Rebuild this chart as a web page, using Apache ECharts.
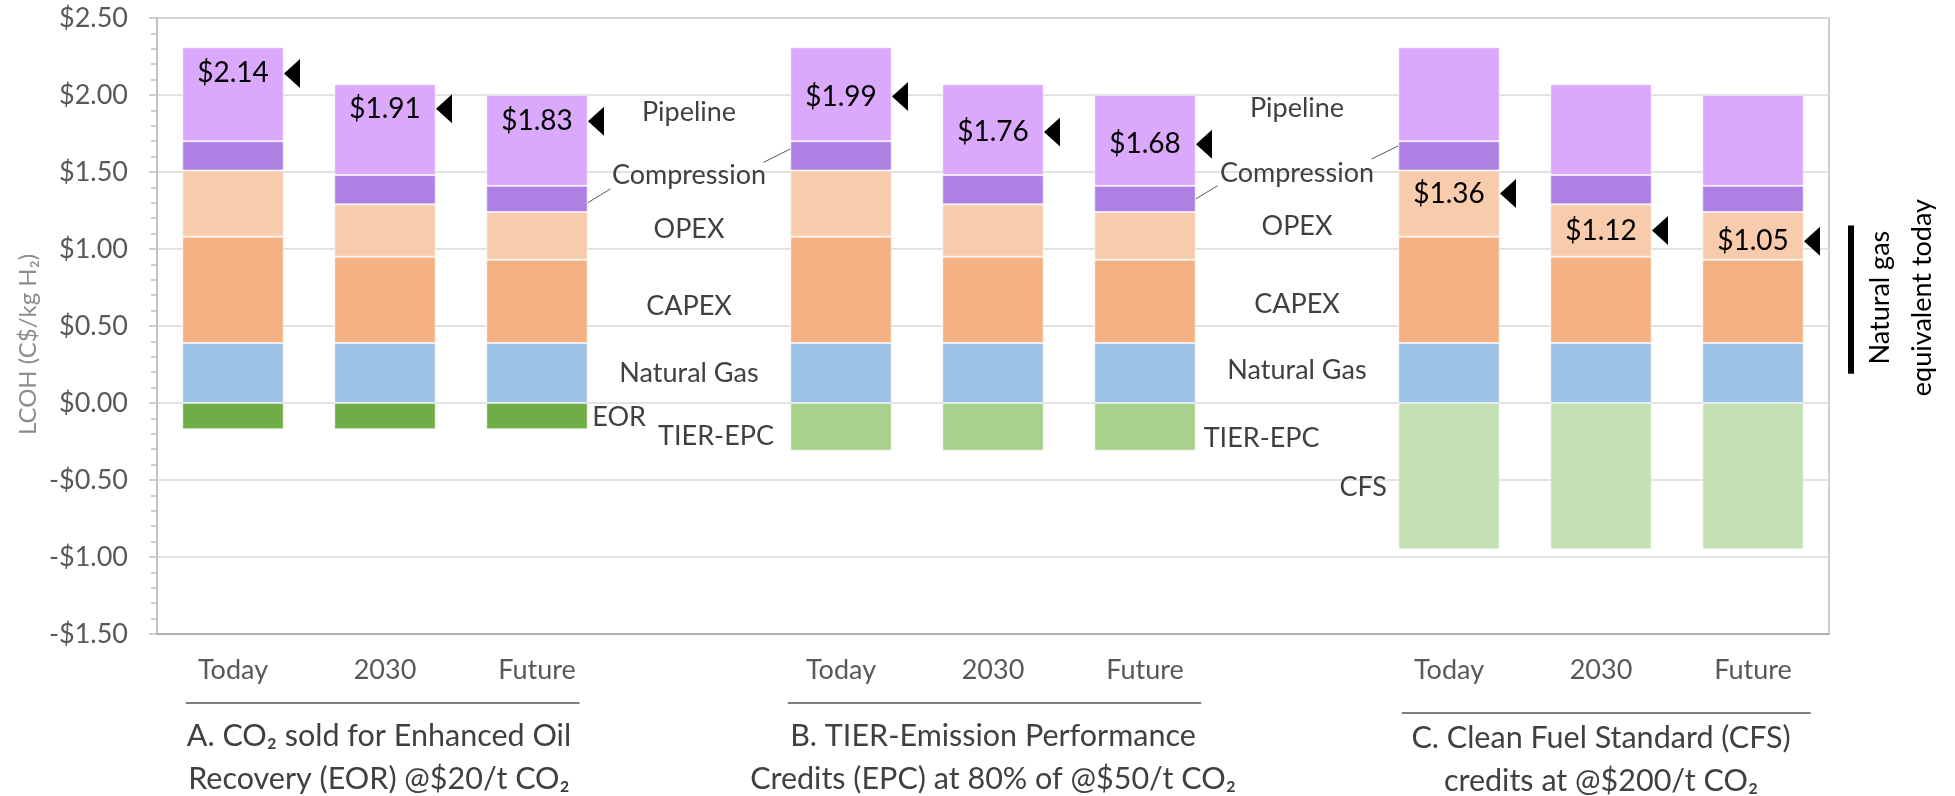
<!DOCTYPE html>
<html><head><meta charset="utf-8">
<script src="https://cdn.jsdelivr.net/npm/echarts@6/dist/echarts.min.js"></script>
<style>html,body{margin:0;padding:0;background:#fff}#c{width:1955px;height:796px}</style>
</head><body><div id="c"></div>
<script>
// ---------- data ----------
const categories = ['Today', '2030', 'Future', '', 'Today', '2030', 'Future', '', 'Today', '2030', 'Future'];
const scenarioStarts = [0, 4, 8];
const naturalGas = [0.39, 0.39, 0.39];
const capex = [0.69, 0.56, 0.54];
const opex = [0.43, 0.34, 0.31];
const compression = [0.19, 0.19, 0.17];
const pipeline = [0.61, 0.59, 0.59];
const eorCredit = [-0.17, -0.17, -0.17];
const tierEpcCredit = [-0.31, -0.31, -0.31];
const cfsCredit = [-0.95, -0.95, -0.95];
const totalsA = [2.14, 1.91, 1.83];
const totalsB = [1.99, 1.76, 1.68];
const totalsC = [1.36, 1.12, 1.05];
const scenarioTitles = [
  ['A. CO\u2082 sold for Enhanced Oil', 'Recovery (EOR) @$20/t CO\u2082'],
  ['B. TIER-Emission Performance', 'Credits (EPC) at 80% of @$50/t CO\u2082'],
  ['C. Clean Fuel Standard (CFS)', 'credits at @$200/t CO\u2082']
];
const yAxisTitle = 'LCOH (C$/kg H\u2082)';
const sideNote = ['Natural gas', 'equivalent today'];

// ---------- layout / style ----------
const FONT = 'Lato, "Noto Sans", sans-serif';
const FS = 27;
const TXT = '#404040';
const G = {left: 157, right: 126, top: 18, bottom: 162};

function spread(values, groups) {
  const out = categories.map(() => '-');
  groups.forEach(g => values.forEach((v, i) => { out[scenarioStarts[g] + i] = v; }));
  return out;
}
const barDefs = [
  ['Natural Gas', spread(naturalGas, [0, 1, 2]), '#9DC3E6'],
  ['CAPEX', spread(capex, [0, 1, 2]), '#F4B183'],
  ['OPEX', spread(opex, [0, 1, 2]), '#F8CBAD'],
  ['Compression', spread(compression, [0, 1, 2]), '#AE80E3'],
  ['Pipeline', spread(pipeline, [0, 1, 2]), '#DAA9FB'],
  ['EOR', spread(eorCredit, [0]), '#70AD47'],
  ['TIER-EPC', spread(tierEpcCredit, [1]), '#A9D18E'],
  ['CFS', spread(cfsCredit, [2]), '#C5E0B4']
];
const barSeries = barDefs.map(([name, data, color]) => ({
  type: 'bar', name, data, stack: 'lcoh', barCategoryGap: '33.3%',
  itemStyle: {color, borderColor: 'rgba(255,255,255,0.55)', borderWidth: 1},
  emphasis: {disabled: true}, silent: true
}));
const totalPoints = [];
[totalsA, totalsB, totalsC].forEach((t, g) => t.forEach((v, i) => totalPoints.push([scenarioStarts[g] + i, v])));

const option = {
  animation: false,
  backgroundColor: '#ffffff',
  grid: {left: G.left, right: G.right, top: G.top, bottom: G.bottom, show: true,
         borderColor: '#bfbfbf', borderWidth: 1.5, backgroundColor: 'transparent'},
  xAxis: {
    type: 'category', data: categories,
    axisLine: {show: true, onZero: false, lineStyle: {color: '#a6a6a6', width: 1.5}},
    axisTick: {show: false},
    axisLabel: {color: '#595959', fontFamily: FONT, fontSize: FS, margin: 23, interval: 0}
  },
  yAxis: {
    type: 'value', min: -1.5, max: 2.5, interval: 0.5,
    axisLine: {show: true, lineStyle: {color: '#bfbfbf', width: 1.5}},
    axisTick: {show: true, length: 8, lineStyle: {color: '#bfbfbf', width: 1.5}},
    minorTick: {show: true, splitNumber: 5, length: 6, lineStyle: {color: '#bfbfbf', width: 1.5}},
    splitLine: {show: true, lineStyle: {color: '#d9d9d9', width: 1.5}},
    axisLabel: {color: '#595959', fontFamily: FONT, fontSize: FS, margin: 29,
      formatter: v => (v < 0 ? '-$' : '$') + Math.abs(v).toFixed(2)}
  },
  series: barSeries.concat([
    {type: 'scatter', name: 'marker', data: totalPoints, symbol: 'triangle',
     symbolSize: [29, 16], symbolRotate: 90, symbolOffset: [59, 0],
     itemStyle: {color: '#000', opacity: 1}, z: 5, silent: true},
    {type: 'scatter', name: 'total', data: totalPoints, symbolSize: 1,
     itemStyle: {color: 'rgba(0,0,0,0)', opacity: 1}, z: 6, silent: true,
     label: {show: true, position: 'inside', color: '#000', fontFamily: FONT, fontSize: 28,
       formatter: p => '$' + p.value[1].toFixed(2)}}
  ])
};

const chart = echarts.init(document.getElementById('c'), null, {renderer: 'canvas'});
chart.setOption(option);

// ---------- annotations positioned through the axes ----------
function px(cat, val) {
  const a = chart.convertToPixel({xAxisIndex: 0, yAxisIndex: 0}, [0, val]);
  const b = chart.convertToPixel({xAxisIndex: 0, yAxisIndex: 0}, [1, val]);
  return [a[0] + cat * (b[0] - a[0]), a[1]];
}
const segLabels = [
  ['Pipeline', 3, 1.885, 'center'], ['Compression', 3, 1.476, 'center'], ['OPEX', 3, 1.127, 'center'],
  ['CAPEX', 3, 0.625, 'center'], ['Natural Gas', 3, 0.194, 'center'],
  ['Pipeline', 7, 1.914, 'center'], ['Compression', 7, 1.494, 'center'], ['OPEX', 7, 1.146, 'center'],
  ['CAPEX', 7, 0.642, 'center'], ['Natural Gas', 7, 0.215, 'center'],
  ['EOR', 2.364, -0.09, 'left'], ['TIER-EPC', 3.559, -0.216, 'right'],
  ['TIER-EPC', 6.386, -0.226, 'left'], ['CFS', 7.592, -0.548, 'right']
];
const leaders = [
  [2.333, 1.30, 2.483, 1.39], [3.49, 1.562, 3.667, 1.65],
  [6.333, 1.325, 6.478, 1.411], [7.49, 1.584, 7.667, 1.67]
];
const sepLines = [[-0.31, 2.28, 69], [3.65, 6.37, 69], [7.69, 10.38, 79]];
const titleCenters = [[0.96, 102], [5.0, 102], [9.0, 104]];

const graphics = [];
segLabels.forEach(([t, c, v, al]) => {
  const p = px(c, v);
  graphics.push({type: 'text', x: p[0], y: p[1], silent: true,
    style: {text: t, fill: TXT, font: FS + 'px ' + FONT, align: al, verticalAlign: 'middle'}});
});
leaders.forEach(([c1, v1, c2, v2]) => {
  const a = px(c1, v1), b = px(c2, v2);
  graphics.push({type: 'line', silent: true, shape: {x1: a[0], y1: a[1], x2: b[0], y2: b[1]},
    style: {stroke: '#595959', lineWidth: 1}});
});
const bottomY = px(0, -1.5)[1];
sepLines.forEach(([c1, c2, dy]) => {
  const a = px(c1, 0), b = px(c2, 0);
  graphics.push({type: 'line', silent: true, shape: {x1: a[0], y1: bottomY + dy, x2: b[0], y2: bottomY + dy},
    style: {stroke: '#7f7f7f', lineWidth: 2}});
});
titleCenters.forEach(([c, dy], i) => {
  const p = px(c, 0);
  scenarioTitles[i].forEach((line, k) => {
    graphics.push({type: 'text', x: p[0], y: bottomY + dy + k * 43, silent: true,
      style: {text: line, fill: TXT, font: '30.5px ' + FONT, align: 'center', verticalAlign: 'middle'}});
  });
});

// y axis title
graphics.push({type: 'text', x: 28, y: px(0, 0.38)[1], rotation: Math.PI / 2, silent: true,
  style: {text: yAxisTitle, fill: '#8c8c8c', font: '24px ' + FONT, align: 'center', verticalAlign: 'middle'}});

// side marker: natural gas equivalent today
const rightX = px(10.5, 0)[0];
const markTop = px(0, 1.153)[1], markBot = px(0, 0.19)[1];
graphics.push({type: 'rect', silent: true, shape: {x: rightX + 19, y: markTop, width: 6, height: markBot - markTop},
  style: {fill: '#000'}});
sideNote.forEach((line, k) => {
  graphics.push({type: 'text', x: rightX + 51 + k * 42, y: (markTop + markBot) / 2 - 2, rotation: Math.PI / 2, silent: true,
    style: {text: line, fill: '#000', font: '27px ' + FONT, align: 'center', verticalAlign: 'middle'}});
});

chart.setOption({graphic: graphics});
</script>
</body></html>
